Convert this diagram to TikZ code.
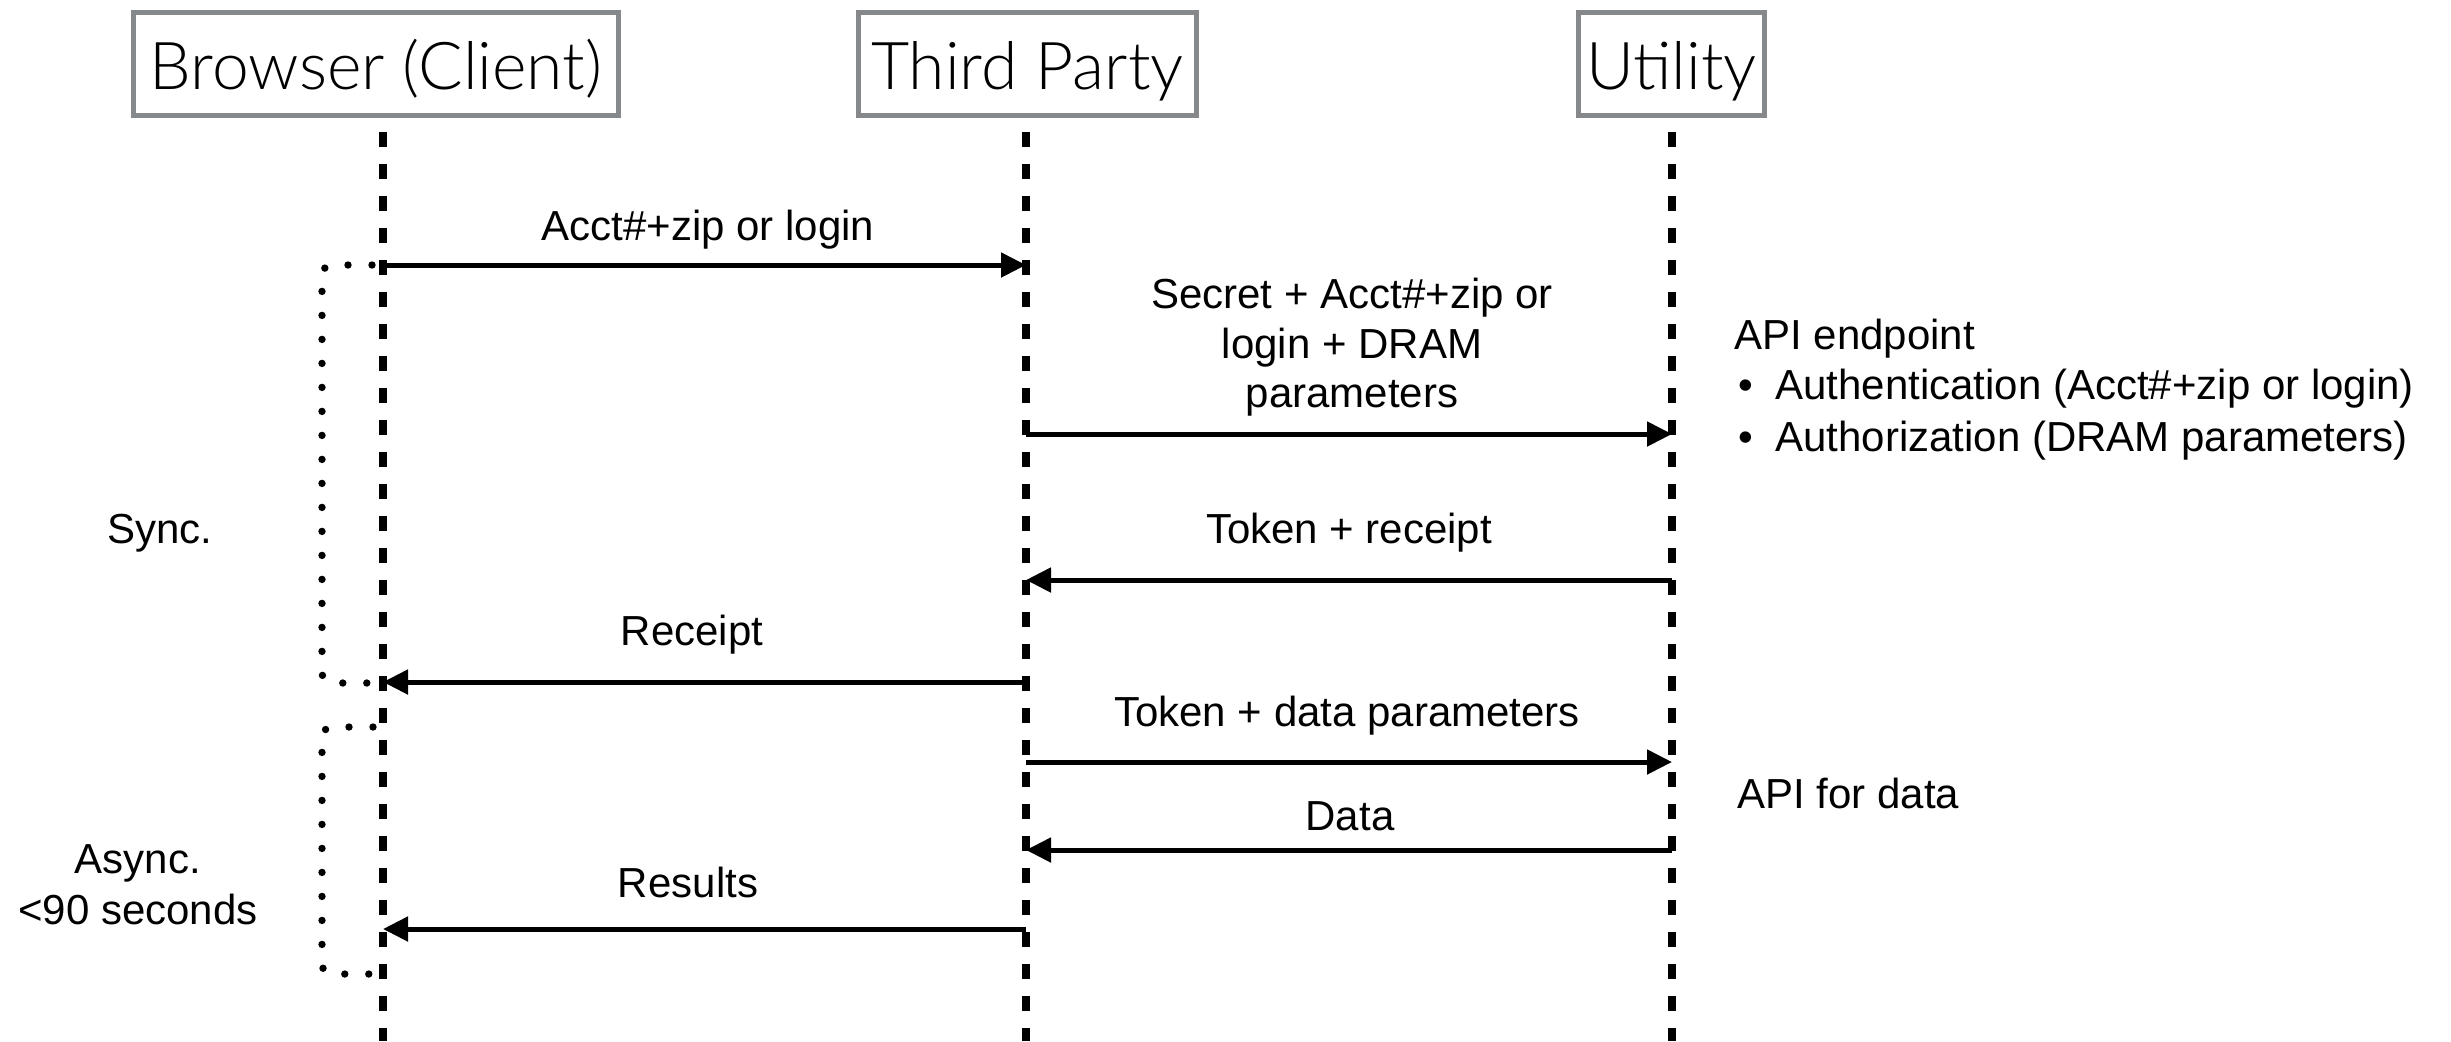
\documentclass[tikz,border=0pt]{standalone}
\usepackage{fontspec}
\setmainfont{Liberation Sans}
\newfontfamily\hdrfont{Lato Light}
\usetikzlibrary{arrows.meta}
\definecolor{boxgray}{HTML}{86898C}
\begin{document}
\begin{tikzpicture}[x=0.5pt,y=-0.5pt,
  hdr/.style={draw=boxgray, line width=2.5pt, inner sep=0pt, text height=25pt, text depth=0pt,
    minimum height=51.5pt, font=\hdrfont\fontsize{33pt}{39pt}\selectfont},
  lifeline/.style={line width=4pt, dash pattern=on 7.5pt off 8.5pt},
  msg/.style={line width=2.5pt, -{Triangle[length=12.5pt,width=12pt]}},
  lbl/.style={inner sep=0pt, anchor=base, font=\fontsize{21pt}{25pt}\selectfont},
  lblw/.style={lbl, anchor=base west},
  bracket/.style={line width=3.7pt, line cap=round, dash pattern=on 0pt off 12pt, rounded corners=5pt}
]
\useasboundingbox (0,0) rectangle (2451,1041);

% participants
\node[hdr, minimum width=242.5pt] (browser) at (376,64) {Browser (Client)};
\node[hdr, minimum width=169pt] (third) at (1027.5,64) {Third Party};
\node[hdr, minimum width=93pt] (utility) at (1671.5,64) {Utility};

% lifelines
\coordinate (bTop) at (383,132);  \coordinate (bBot) at (383,1041);
\coordinate (tTop) at (1026,132); \coordinate (tBot) at (1026,1041);
\coordinate (uTop) at (1672,132); \coordinate (uBot) at (1672,1041);
\draw[lifeline] (bTop) -- (bBot);
\draw[lifeline] (tTop) -- (tBot);
\draw[lifeline] (uTop) -- (uBot);

% message anchor points on the lifelines
\coordinate (b1) at (383,265);  \coordinate (t1) at (1026,265);
\coordinate (t2) at (1026,434); \coordinate (u2) at (1672,434);
\coordinate (u3) at (1672,580); \coordinate (t3) at (1026,580);
\coordinate (t4) at (1026,682); \coordinate (b4) at (383,682);
\coordinate (t5) at (1026,762); \coordinate (u5) at (1672,762);
\coordinate (u6) at (1672,850); \coordinate (t6) at (1026,850);
\coordinate (t7) at (1026,929); \coordinate (b7) at (383,929);

% messages
\draw[msg] (b1) -- (t1);
\draw[msg] (t2) -- (u2);
\draw[msg] (u3) -- (t3);
\draw[msg] (t4) -- (b4);
\draw[msg] (t5) -- (u5);
\draw[msg] (u6) -- (t6);
\draw[msg] (t7) -- (b7);

% message labels
\node[lbl] (l1) at (708,240) {Acct\#+zip or login};
\node[lbl] (l2a) at (1352,308) {Secret + Acct\#+zip or};
\node[lbl] (l2b) at (1352,358) {login + DRAM};
\node[lbl] (l2c) at (1352,407) {parameters};
\node[lbl] (l3) at (1349,543) {Token + receipt};
\node[lbl] (l4) at (692,645) {Receipt};
\node[lbl] (l5) at (1347,726) {Token + data parameters};
\node[lbl] (l6) at (1350,830) {Data};
\node[lbl] (l7) at (688,897) {Results};

% sync / async brackets
\coordinate (s1) at (372,265); \coordinate (s2) at (322,265);
\coordinate (s3) at (322,683); \coordinate (s4) at (372,683);
\draw[bracket] (s1) -- (s2) -- (s3) -- (s4);
\coordinate (a1) at (373,727); \coordinate (a2) at (322,727);
\coordinate (a3) at (322,974); \coordinate (a4) at (370,974);
\draw[bracket] (a1) -- (a2) -- (a3) -- (a4);

\node[lbl] (sync) at (160,543) {Sync.};
\node[lbl] (async1) at (138,873) {Async.};
\node[lbl] (async2) at (138,924) {<90 seconds};

% utility-side notes
\node[lblw] (api) at (1734,349) {API endpoint};
\node[lblw] (bul1) at (1738,399) {•};
\node[lblw] (auth1) at (1775,399) {Authentication (Acct\#+zip or login)};
\node[lblw] (bul2) at (1738,451) {•};
\node[lblw] (auth2) at (1775,451) {Authorization (DRAM parameters)};
\node[lblw] (apidata) at (1737,808) {API for data};
\end{tikzpicture}
\end{document}
